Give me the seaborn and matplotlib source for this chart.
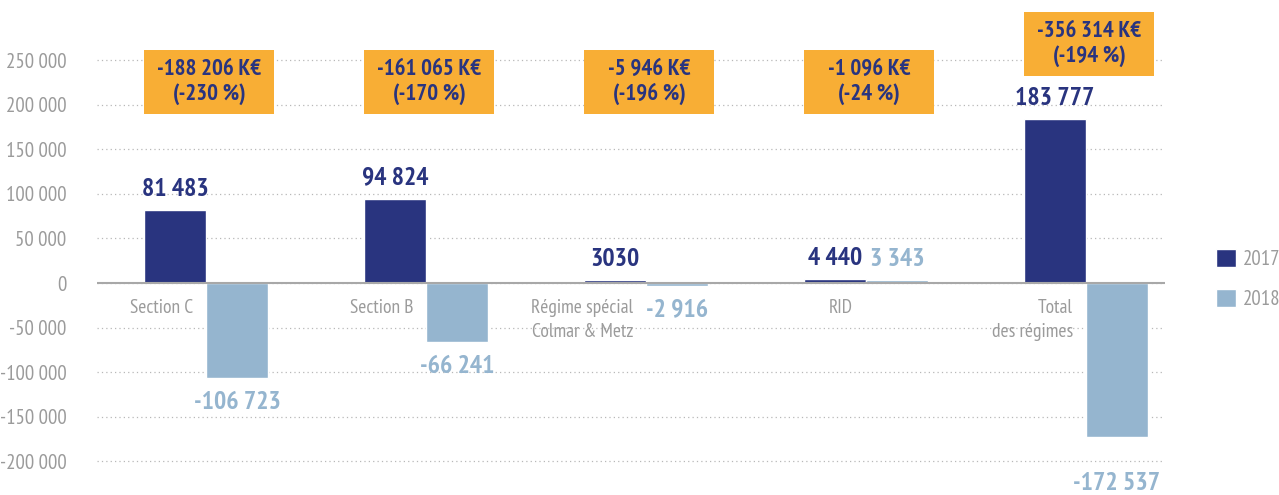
import matplotlib
import matplotlib.pyplot as plt
import pandas as pd
import seaborn as sns
from matplotlib.patches import Patch, Rectangle

matplotlib.use("Agg")

# --- DATA ---
categories = ["Section C", "Section B", "Régime spécial\nColmar & Metz", "RID", "Total\ndes régimes"]
years = ["2017", "2018"]
values_2017 = [81483, 94824, 3030, 4440, 183777]
values_2018 = [-106723, -66241, -2916, 3343, -172537]
labels_2017 = ["81 483", "94 824", "3030", "4 440", "183 777"]
labels_2018 = ["-106 723", "-66 241", "-2 916", "3 343", "-172 537"]
diff_labels = [
    "-188 206 K€\n(-230 %)",
    "-161 065 K€\n(-170 %)",
    "-5 946 K€\n(-196 %)",
    "-1 096 K€\n(-24 %)",
    "-356 314 K€\n(-194 %)",
]
yticks = [-200000, -150000, -100000, -50000, 0, 50000, 100000, 150000, 200000, 250000]
# -------------

NAVY = "#29347f"
LIGHT = "#95b5cf"
ORANGE = "#f8ae35"
GREY = "#9b9b9b"

df = pd.DataFrame(
    {
        "categorie": categories * 2,
        "annee": [years[0]] * len(categories) + [years[1]] * len(categories),
        "valeur": values_2017 + values_2018,
    }
)

sns.set_style("white")
plt.rcParams["font.family"] = ["PT Sans Narrow", "Roboto Condensed", "DejaVu Sans"]

fig = plt.figure(figsize=(12.79, 4.95), dpi=100)
ax = fig.add_axes([97 / 1279, 0, (1165 - 97) / 1279, 1])

bar_w = 62 / 220
sns.barplot(
    data=df,
    x="categorie",
    y="valeur",
    hue="annee",
    palette=[NAVY, LIGHT],
    width=2 * bar_w,
    gap=0,
    ax=ax,
    legend=False,
    saturation=1,
)

ax.set_xlim(-109 / 220, 959 / 220)
ax.set_ylim(-237900, 317600)
ax.set_yticks(yticks)
ax.set_yticklabels([f"{v:,}".replace(",", " ") for v in yticks], fontsize=15, color=GREY)
ax.tick_params(axis="y", length=0, pad=22)
ax.set_xticks([])
ax.set_xlabel("")
ax.set_ylabel("")
for s in ax.spines.values():
    s.set_visible(False)

ax.grid(axis="y", linestyle=(0, (1, 2.5)), color="#b8b8b8", linewidth=0.9)
ax.set_axisbelow(True)
ax.axhline(0, color="#a8a8a8", linewidth=1.5, zorder=1.5)

# category labels under the zero line
for i, cat in enumerate(categories):
    ax.annotate(
        cat, xy=(i, 0), xytext=(-13, -16), textcoords="offset pixels",
        ha="right", va="top", fontsize=14, color=GREY, linespacing=1.4,
    )

# value labels above / below each bar
for cont, labels, vals, col in zip(ax.containers, [labels_2017, labels_2018],
                                   [values_2017, values_2018], [NAVY, LIGHT]):
    for i, (bar, lab, v) in enumerate(zip(cont, labels, vals)):
        cx = bar.get_x() + bar.get_width() / 2
        if v >= 0:
            ax.annotate(lab, xy=(cx, v), xytext=(0, 9), textcoords="offset pixels",
                        ha="center", va="bottom", fontsize=18.5, fontweight="bold", color=col)
        else:
            off = -35 if i == len(categories) - 1 else -13
            ax.annotate(lab, xy=(cx, v), xytext=(0, off), textcoords="offset pixels",
                        ha="center", va="top", fontsize=18.5, fontweight="bold", color=col)

# orange difference boxes
box_w = 130 / 220
box_h = 71800
for i, txt in enumerate(diff_labels):
    left = i - bar_w
    bottom = max(189700, values_2017[i] + 48500)
    ax.add_patch(Rectangle((left, bottom), box_w, box_h, facecolor=ORANGE, edgecolor="none", zorder=3))
    ax.text(left + box_w / 2, bottom + box_h / 2, txt, ha="center", va="center",
            fontsize=16.5, fontweight="bold", color=NAVY, linespacing=1.15, zorder=4)

handles = [Patch(facecolor=NAVY), Patch(facecolor=LIGHT)]
fig.legend(
    handles, years, loc="center left", bbox_to_anchor=(1216 / 1279, 1 - 279 / 495),
    frameon=False, fontsize=15, labelcolor=GREY, handlelength=0.97, handleheight=0.97,
    handletextpad=0.3, labelspacing=0.95, borderpad=0, borderaxespad=0,
)

fig.savefig("out.png", dpi=100)
